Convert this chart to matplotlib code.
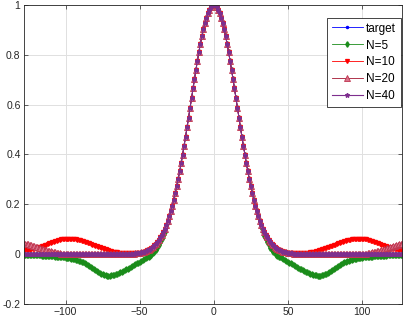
import numpy as np
import matplotlib
matplotlib.use("Agg")
import matplotlib.pyplot as plt

plt.rcParams['font.family'] = ['Liberation Sans', 'DejaVu Sans']

# sample positions
x = np.arange(-128, 128)

target = [
    0, 0, 0, 0, 0, 0, 0, 0, 0, 0,
    0, 0, 0, 0, 0, 0, 0, 0, 0, 0,
    0, 0, 0, 0, 0, 0, 0, 0, 0, 0,
    0, 0, 0, 0, 0, 0, 0, 0, 0, 0,
    0, 0, 0, 0, 0, 0, 0, 0, 0, 0,
    0, 0, 0, 0, 0, 0, 0, 0, 0, 0,
    0, 0, 0, 0, 0, 0, 0, 0, 0, 0,
    0.001, 0.001, 0.001, 0.002, 0.002, 0.003, 0.004, 0.004,
    0.005, 0.007, 0.008, 0.010, 0.012, 0.015, 0.018, 0.021, 0.025, 0.030,
    0.036, 0.042, 0.049, 0.058, 0.067, 0.078, 0.090, 0.103, 0.118, 0.135,
    0.153, 0.173, 0.195, 0.219, 0.245, 0.272, 0.301, 0.332, 0.365, 0.399,
    0.435, 0.471, 0.509, 0.548, 0.587, 0.626, 0.665, 0.703, 0.741, 0.777,
    0.812, 0.845, 0.875, 0.903, 0.928, 0.949, 0.967, 0.981, 0.992, 0.998,
    1.000,
    0.998, 0.992, 0.981, 0.967, 0.949, 0.928, 0.903, 0.875, 0.845, 0.812,
    0.777, 0.741, 0.703, 0.665, 0.626, 0.587, 0.548, 0.509, 0.471, 0.435,
    0.399, 0.365, 0.332, 0.301, 0.272, 0.245, 0.219, 0.195, 0.173, 0.153,
    0.135, 0.118, 0.103, 0.090, 0.078, 0.067, 0.058, 0.049, 0.042, 0.036,
    0.030, 0.025, 0.021, 0.018, 0.015, 0.012, 0.010, 0.008, 0.007, 0.005,
    0.004, 0.004, 0.003, 0.002, 0.002, 0.001, 0.001, 0.001,
    0, 0, 0, 0, 0, 0, 0, 0, 0, 0,
    0, 0, 0, 0, 0, 0, 0, 0, 0, 0,
    0, 0, 0, 0, 0, 0, 0, 0, 0, 0,
    0, 0, 0, 0, 0, 0, 0, 0, 0, 0,
    0, 0, 0, 0, 0, 0, 0, 0, 0, 0,
    0, 0, 0, 0, 0, 0, 0, 0, 0, 0,
    0, 0, 0, 0, 0, 0, 0, 0, 0,
]

n5 = [
    -0.002,
    -0.002, -0.002, -0.003, -0.003, -0.003, -0.004, -0.004,
    -0.004, -0.005, -0.005, -0.005, -0.006, -0.006, -0.006, -0.007, -0.007, -0.008,
    -0.008, -0.009, -0.009, -0.010, -0.010, -0.011, -0.011, -0.012, -0.013, -0.013,
    -0.014, -0.015, -0.016, -0.017, -0.018, -0.019, -0.021, -0.022, -0.024, -0.026,
    -0.028, -0.030, -0.033, -0.036, -0.039, -0.042, -0.046, -0.050, -0.054, -0.058,
    -0.062, -0.067, -0.071, -0.075, -0.078, -0.081, -0.083, -0.085, -0.086, -0.086,
    -0.086, -0.085, -0.084, -0.082, -0.080, -0.078, -0.076, -0.073, -0.070, -0.067,
    -0.064, -0.061, -0.058, -0.054, -0.051, -0.048, -0.044, -0.041, -0.037, -0.034,
    -0.030, -0.027, -0.024, -0.020, -0.017, -0.013, -0.010, -0.006, -0.002, 0.004,
    0.010, 0.017, 0.026, 0.036, 0.047, 0.060, 0.074, 0.090, 0.108, 0.128,
    0.153, 0.173, 0.195, 0.219, 0.245, 0.272, 0.301, 0.332, 0.365, 0.399,
    0.435, 0.471, 0.509, 0.548, 0.587, 0.626, 0.665, 0.703, 0.741, 0.777,
    0.812, 0.845, 0.875, 0.903, 0.928, 0.949, 0.967, 0.981, 0.992, 0.998,
    1.000,
    0.998, 0.992, 0.981, 0.967, 0.949, 0.928, 0.903, 0.875, 0.845, 0.812,
    0.777, 0.741, 0.703, 0.665, 0.626, 0.587, 0.548, 0.509, 0.471, 0.435,
    0.399, 0.365, 0.332, 0.301, 0.272, 0.245, 0.219, 0.195, 0.173, 0.153,
    0.128, 0.108, 0.090, 0.074, 0.060, 0.047, 0.036, 0.026, 0.017, 0.010,
    0.004, -0.002, -0.006, -0.010, -0.013, -0.017, -0.020, -0.024, -0.027, -0.030,
    -0.034, -0.037, -0.041, -0.044, -0.048, -0.051, -0.054, -0.058, -0.061, -0.064,
    -0.067, -0.070, -0.073, -0.076, -0.078, -0.080, -0.082, -0.084, -0.085, -0.086,
    -0.086, -0.086, -0.085, -0.083, -0.081, -0.078, -0.075, -0.071, -0.067, -0.062,
    -0.058, -0.054, -0.050, -0.046, -0.042, -0.039, -0.036, -0.033, -0.030, -0.028,
    -0.026, -0.024, -0.022, -0.021, -0.019, -0.018, -0.017, -0.016, -0.015, -0.014,
    -0.013, -0.013, -0.012, -0.011, -0.011, -0.010, -0.010, -0.009, -0.009, -0.008,
    -0.008, -0.007, -0.007, -0.006, -0.006, -0.006, -0.005, -0.005, -0.005, -0.004,
    -0.004, -0.004, -0.003, -0.003, -0.003, -0.002, -0.002,
]

n10 = [
    0.015,
    0.016, 0.016, 0.017, 0.018, 0.019, 0.020, 0.021,
    0.023, 0.025, 0.027, 0.029, 0.031, 0.033, 0.035, 0.038, 0.040, 0.043,
    0.045, 0.048, 0.050, 0.052, 0.054, 0.056, 0.058, 0.059, 0.060, 0.061,
    0.062, 0.062, 0.062, 0.062, 0.062, 0.061, 0.060, 0.059, 0.058, 0.057,
    0.055, 0.053, 0.051, 0.049, 0.047, 0.045, 0.043, 0.041, 0.038, 0.036,
    0.034, 0.032, 0.029, 0.027, 0.025, 0.023, 0.021, 0.019, 0.017, 0.015,
    0.013, 0.012, 0.010, 0.009, 0.008, 0.007, 0.006, 0.005, 0.004, 0.004,
    0.003, 0.003, 0.003, 0.003, 0.003, 0.003, 0.003, 0.003, 0.004, 0.004,
    0.005, 0.006,
    0.008, 0.010, 0.012, 0.015, 0.018, 0.021, 0.025, 0.030,
    0.036, 0.042, 0.049, 0.058, 0.067, 0.078, 0.090, 0.103, 0.118, 0.135,
    0.153, 0.173, 0.195, 0.219, 0.245, 0.272, 0.301, 0.332, 0.365, 0.399,
    0.435, 0.471, 0.509, 0.548, 0.587, 0.626, 0.665, 0.703, 0.741, 0.777,
    0.812, 0.845, 0.875, 0.903, 0.928, 0.949, 0.967, 0.981, 0.992, 0.998,
    1.000,
    0.998, 0.992, 0.981, 0.967, 0.949, 0.928, 0.903, 0.875, 0.845, 0.812,
    0.777, 0.741, 0.703, 0.665, 0.626, 0.587, 0.548, 0.509, 0.471, 0.435,
    0.399, 0.365, 0.332, 0.301, 0.272, 0.245, 0.219, 0.195, 0.173, 0.153,
    0.135, 0.118, 0.103, 0.090, 0.078, 0.067, 0.058, 0.049, 0.042, 0.036,
    0.030, 0.025, 0.021, 0.018, 0.015, 0.012, 0.010, 0.008,
    0.006, 0.005,
    0.004, 0.004, 0.003, 0.003, 0.003, 0.003, 0.003, 0.003, 0.003, 0.003,
    0.004, 0.004, 0.005, 0.006, 0.007, 0.008, 0.009, 0.010, 0.012, 0.013,
    0.015, 0.017, 0.019, 0.021, 0.023, 0.025, 0.027, 0.029, 0.032, 0.034,
    0.036, 0.038, 0.041, 0.043, 0.045, 0.047, 0.049, 0.051, 0.053, 0.055,
    0.057, 0.058, 0.059, 0.060, 0.061, 0.062, 0.062, 0.062, 0.062, 0.062,
    0.061, 0.060, 0.059, 0.058, 0.056, 0.054, 0.052, 0.050, 0.048, 0.045,
    0.043, 0.040, 0.038, 0.035, 0.033, 0.031, 0.029, 0.027, 0.025, 0.023,
    0.021, 0.020, 0.019, 0.018, 0.017, 0.016, 0.016,
]

n20 = [
    0.042, 0.041, 0.040, 0.039, 0.038, 0.036, 0.034, 0.032, 0.030, 0.028,
    0.026, 0.024, 0.022, 0.020, 0.018, 0.016, 0.014, 0.013, 0.011, 0.010,
    0.008, 0.007, 0.005, 0.004, 0.003, 0.002, 0.001, 0.001,
    0, 0, 0, 0, 0, 0, 0, 0, 0, 0,
    0, 0, 0, 0, 0, 0, 0, 0, 0, 0,
    0, 0, 0, 0, 0, 0, 0, 0, 0, 0,
    0, 0, 0, 0, 0, 0, 0, 0, 0, 0,
    0, 0,
    0.001, 0.001, 0.001, 0.002, 0.002, 0.003, 0.004, 0.004,
    0.005, 0.007, 0.008, 0.010, 0.012, 0.015, 0.018, 0.021, 0.025, 0.030,
    0.036, 0.042, 0.049, 0.058, 0.067, 0.078, 0.090, 0.103, 0.118, 0.135,
    0.153, 0.173, 0.195, 0.219, 0.245, 0.272, 0.301, 0.332, 0.365, 0.399,
    0.435, 0.471, 0.509, 0.548, 0.587, 0.626, 0.665, 0.703, 0.741, 0.777,
    0.812, 0.845, 0.875, 0.903, 0.928, 0.949, 0.967, 0.981, 0.992, 0.998,
    1.000,
    0.998, 0.992, 0.981, 0.967, 0.949, 0.928, 0.903, 0.875, 0.845, 0.812,
    0.777, 0.741, 0.703, 0.665, 0.626, 0.587, 0.548, 0.509, 0.471, 0.435,
    0.399, 0.365, 0.332, 0.301, 0.272, 0.245, 0.219, 0.195, 0.173, 0.153,
    0.135, 0.118, 0.103, 0.090, 0.078, 0.067, 0.058, 0.049, 0.042, 0.036,
    0.030, 0.025, 0.021, 0.018, 0.015, 0.012, 0.010, 0.008, 0.007, 0.005,
    0.004, 0.004, 0.003, 0.002, 0.002, 0.001, 0.001, 0.001,
    0, 0, 0, 0, 0, 0, 0, 0, 0, 0,
    0, 0, 0, 0, 0, 0, 0, 0, 0, 0,
    0, 0, 0, 0, 0, 0, 0, 0, 0, 0,
    0, 0, 0, 0, 0, 0, 0, 0, 0, 0,
    0, 0,
    0.001, 0.001, 0.002, 0.003, 0.004, 0.005, 0.007, 0.008, 0.010, 0.011,
    0.013, 0.014, 0.016, 0.018, 0.020, 0.022, 0.024, 0.026, 0.028, 0.030,
    0.032, 0.034, 0.036, 0.038, 0.039, 0.040, 0.041,
]

# N=40 coincides with the target everywhere in the picture
n40 = list(target)

labels = ['target', 'N=5', 'N=10', 'N=20', 'N=40']
xticks = [-100, -50, 0, 50, 100]
yticks = [-0.2, 0, 0.2, 0.4, 0.6, 0.8, 1]
yticklabels = ['-0.2', '0', '0.2', '0.4', '0.6', '0.8', '1']

c_blue = (0.0, 0.0, 1.0)
c_green = (0.1, 0.55, 0.1)
c_red = (1.0, 0.0, 0.0)
c_dred = (0.635, 0.078, 0.184)
c_purple = (0.494, 0.184, 0.556)

fig = plt.figure(figsize=(4.06, 3.2), dpi=100)
ax = fig.add_axes([24 / 406, 16 / 320, 378 / 406, 299 / 320])

lw = 0.6
ax.plot(x, target, '-', color=c_blue, lw=lw, marker='.', ms=3, label=labels[0])
ax.plot(x, n5, '-', color=c_green, lw=lw, marker='d', ms=2.8, label=labels[1])
ax.plot(x, n10, '-', color=c_red, lw=lw, marker='v', ms=2.8, label=labels[2])
ax.plot(x, n20, '-', color=c_dred, lw=lw, marker='^', ms=4.3, mfc=(0.85, 0.45, 0.55),
        mec=(0.75, 0.2, 0.3), mew=0.6, label=labels[3])
ax.plot(x, n40, '-', color=c_purple, lw=0.8, marker='*', ms=3.2, label=labels[4])

ax.set_xlim(-128, 127)
ax.set_ylim(-0.2, 1.0)
ax.set_xticks(xticks)
ax.set_yticks(yticks)
ax.set_yticklabels(yticklabels)

ax.grid(True, color=(0.88, 0.88, 0.88), lw=0.7)
ax.set_axisbelow(True)
for s in ax.spines.values():
    s.set_color((0.15, 0.15, 0.15))
    s.set_linewidth(0.6)
ax.tick_params(direction='in', length=3, width=0.5, colors=(0.15, 0.15, 0.15),
               labelsize=7.5, top=True, right=True, pad=2.5)

leg = ax.legend(loc='upper right', bbox_to_anchor=(0.997, 0.957), borderaxespad=0,
                fontsize=8.5, handlelength=2.6, handletextpad=0.3, labelspacing=0.42,
                borderpad=0.4, fancybox=False, framealpha=1, edgecolor=(0.15, 0.15, 0.15))
leg.get_frame().set_linewidth(0.6)

fig.savefig('out.png', dpi=100)
